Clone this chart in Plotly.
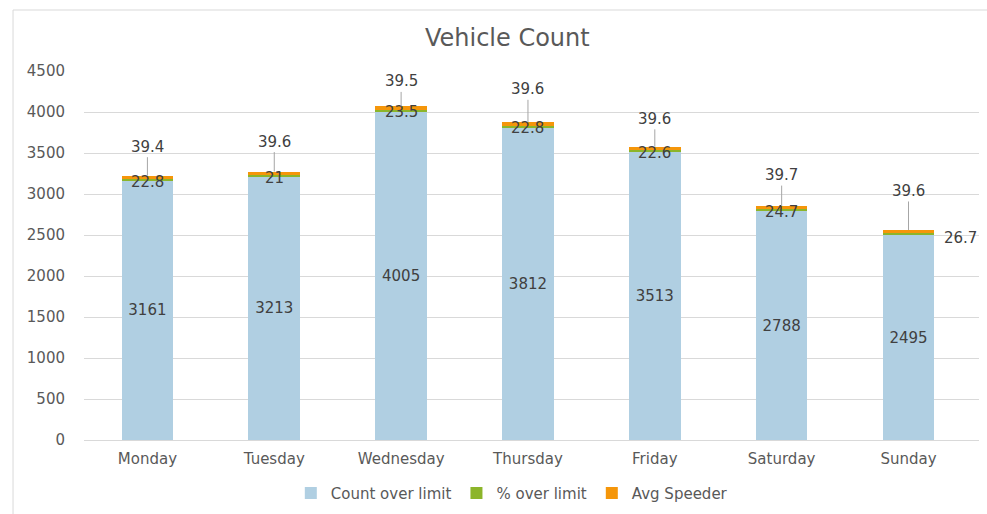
import plotly.graph_objects as go

days = ["Monday", "Tuesday", "Wednesday", "Thursday", "Friday", "Saturday", "Sunday"]
count_over_limit = [3161, 3213, 4005, 3812, 3513, 2788, 2495]
pct_over_limit = [22.8, 21, 23.5, 22.8, 22.6, 24.7, 26.7]
avg_speeder = [39.4, 39.6, 39.5, 39.6, 39.6, 39.7, 39.6]
y_ticks = [0, 500, 1000, 1500, 2000, 2500, 3000, 3500, 4000, 4500]

# label layout (pixel lifts of the leader-line labels above each bar)
speeder_label_lift = [29, 30, 25, 33, 28, 31, 39]

C_BLUE = "#B0CFE2"
C_GREEN = "#8CB52A"
C_ORANGE = "#F5960A"
TXT = "#404040"
AX_TXT = "#595959"
FONT = "DejaVu Sans"
FS = 15

fig = go.Figure()
fig.add_trace(go.Bar(x=days, y=count_over_limit, name="Count over limit",
                     marker=dict(color=C_BLUE, line=dict(width=0)),
                     text=[str(v) for v in count_over_limit], textposition="inside",
                     insidetextanchor="middle", textfont=dict(color=TXT, size=FS, family=FONT),
                     hoverinfo="skip"))
fig.add_trace(go.Bar(x=days, y=pct_over_limit, name="% over limit",
                     marker=dict(color=C_GREEN, line=dict(width=0)), hoverinfo="skip"))
fig.add_trace(go.Bar(x=days, y=avg_speeder, name="Avg Speeder",
                     marker=dict(color=C_ORANGE, line=dict(width=0)), hoverinfo="skip"))

annotations = []
for i, d in enumerate(days):
    total = count_over_limit[i] + pct_over_limit[i] + avg_speeder[i]
    if i == len(days) - 1:
        annotations.append(dict(x=d, y=total, text=f"{pct_over_limit[i]:g}", showarrow=False,
                                xshift=52, yshift=-8, font=dict(color=TXT, size=FS, family=FONT)))
    else:
        annotations.append(dict(x=d, y=total, text=f"{pct_over_limit[i]:g}", showarrow=False,
                                yshift=-6, font=dict(color=TXT, size=FS, family=FONT)))
    annotations.append(dict(x=d, y=total, text=f"{avg_speeder[i]:g}", showarrow=True,
                            arrowhead=0, arrowwidth=1, arrowcolor="#A6A6A6", standoff=0,
                            ax=0, ay=-speeder_label_lift[i],
                            font=dict(color=TXT, size=FS, family=FONT)))

fig.update_layout(
    barmode="stack",
    bargap=0.593,
    width=987, height=514,
    margin=dict(l=84, r=8, t=71, b=74, autoexpand=False),
    paper_bgcolor="white", plot_bgcolor="white",
    font=dict(family=FONT, color=TXT, size=FS),
    title=dict(text="Vehicle Count", x=0.514, xanchor="center", y=1 - 38 / 514, yanchor="middle",
               yref="container", font=dict(size=24, color=AX_TXT, family=FONT)),
    legend=dict(orientation="h", x=0.478, xanchor="center", y=-0.144, yanchor="middle",
                font=dict(size=FS, color=AX_TXT, family=FONT), traceorder="normal",
                itemwidth=30),
    xaxis=dict(showgrid=False, showline=False, ticks="", tickfont=dict(size=FS, color=AX_TXT),
               ticklabelstandoff=8),
    yaxis=dict(range=[0, 4500], tickvals=y_ticks, showgrid=True, gridcolor="#D9D9D9", gridwidth=1,
               zeroline=True, zerolinecolor="#D9D9D9", zerolinewidth=1, showline=False, ticks="",
               tickfont=dict(size=FS, color=AX_TXT), ticklabelstandoff=18),
    annotations=annotations,
    shapes=[dict(type="rect", xref="paper", yref="paper", x0=-0.0793, x1=1.05, y0=-0.25, y1=1.1653,
                 line=dict(color="#D9D9D9", width=1), fillcolor="rgba(0,0,0,0)", layer="below")],
    hovermode=False,
)

fig.write_html("out.html", config={"displayModeBar": False},
               post_script="document.body.style.margin='0';document.body.style.overflow='hidden';")
